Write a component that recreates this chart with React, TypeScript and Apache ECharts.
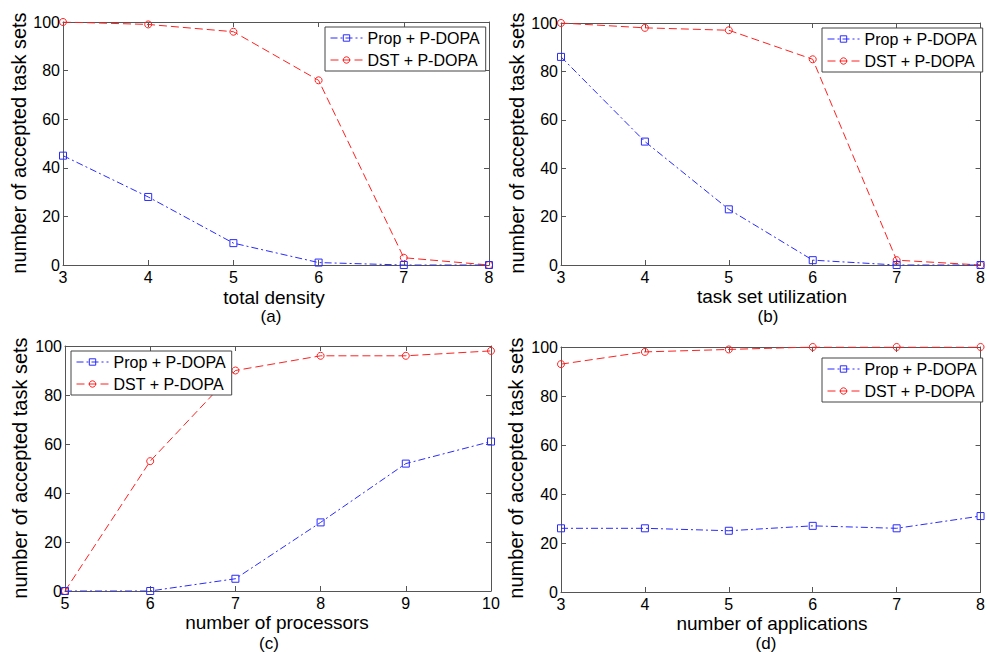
import React, { useEffect, useRef } from 'react';
import * as echarts from 'echarts';

// ---- data ----
const xA = [3, 4, 5, 6, 7, 8];
const propA = [45, 28, 9, 1, 0, 0];
const dstA = [100, 99, 96, 76, 3, 0];

const xB = [3, 4, 5, 6, 7, 8];
const propB = [86, 51, 23, 2, 0, 0];
const dstB = [100, 98, 97, 85, 2, 0];

const xC = [5, 6, 7, 8, 9, 10];
const propC = [0, 0, 5, 28, 52, 61];
const dstC = [0, 53, 90, 96, 96, 98];

const xD = [3, 4, 5, 6, 7, 8];
const propD = [26, 26, 25, 27, 26, 31];
const dstD = [93, 98, 99, 100, 100, 100];

const yMin = 0;
const yMax = 100;
const yStep = 20;

const xTitles = ['total density', 'task set utilization', 'number of processors', 'number of applications'];
const panelTags = ['(a)', '(b)', '(c)', '(d)'];
const yTitle = 'number of accepted task sets';
const seriesNames = ['Prop + P-DOPA', 'DST + P-DOPA'];

const panels = [
  { x: xA, prop: propA, dst: dstA },
  { x: xB, prop: propB, dst: dstB },
  { x: xC, prop: propC, dst: dstC },
  { x: xD, prop: propD, dst: dstD },
];

// ---- layout ----
const grids = [
  { left: 63, top: 22, width: 426, height: 243 },
  { left: 561, top: 23, width: 426, height: 242 },
  { left: 65, top: 346, width: 426, height: 245 },
  { left: 561, top: 347, width: 425, height: 245 },
];
const legendPos = [
  { left: 325, top: 27 },
  { left: 822, top: 28 },
  { left: 71, top: 351 },
  { left: 822, top: 358 },
];
const yTitlePos = [
  { x: 19, y: 143 },
  { x: 517, y: 143 },
  { x: 20, y: 468 },
  { x: 516, y: 468 },
];
const xTitlePos = [
  { x: 274, y: 297, tx: 271, ty: 316 },
  { x: 772, y: 296, tx: 768, ty: 316 },
  { x: 277, y: 622, tx: 269, ty: 643 },
  { x: 772, y: 623, tx: 766, ty: 643 },
];

const FONT = 'Arial, "Liberation Sans", Helvetica, sans-serif';
const AXIS_COLOR = '#555';
const BLUE = '#2a2aff';
const RED = '#ff2020';

export default function App() {
  const ref = useRef<HTMLDivElement>(null);

  useEffect(() => {
    document.body.style.margin = '0';
    if (!ref.current) return;
    const chart = echarts.init(ref.current, undefined, { renderer: 'svg' });

    const xAxes: any[] = [];
    const yAxes: any[] = [];
    const series: any[] = [];
    const graphics: any[] = [];
    const legends: any[] = [];

    panels.forEach((p, i) => {
      const xmin = p.x[0];
      const xmax = p.x[p.x.length - 1];
      const baseX = {
        type: 'value',
        gridIndex: i,
        min: xmin,
        max: xmax,
        interval: 1,
        splitLine: { show: false },
        axisLine: { show: true, onZero: false, lineStyle: { color: AXIS_COLOR, width: 1 } },
        axisTick: { show: true, inside: true, length: 5, lineStyle: { color: AXIS_COLOR } },
      };
      xAxes.push({
        ...baseX,
        position: 'bottom',
        axisLabel: { show: true, color: '#000', fontSize: 16, fontFamily: FONT, margin: 4 },
      });
      xAxes.push({
        ...baseX,
        position: 'top',
        axisLabel: { show: false },
      });
      const baseY = {
        type: 'value',
        gridIndex: i,
        min: yMin,
        max: yMax,
        interval: yStep,
        splitLine: { show: false },
        axisLine: { show: true, onZero: false, lineStyle: { color: AXIS_COLOR, width: 1 } },
        axisTick: { show: true, inside: true, length: 5, lineStyle: { color: AXIS_COLOR } },
      };
      yAxes.push({
        ...baseY,
        position: 'left',
        axisLabel: { show: true, color: '#000', fontSize: 16, fontFamily: FONT, margin: 3 },
      });
      yAxes.push({
        ...baseY,
        position: 'right',
        axisLabel: { show: false },
      });

      series.push({
        name: seriesNames[0],
        type: 'line',
        xAxisIndex: i * 2,
        yAxisIndex: i * 2,
        data: p.x.map((xv, k) => [xv, p.prop[k]]),
        symbol: 'rect',
        symbolSize: 7,
        showSymbol: true,
        color: BLUE,
        itemStyle: { color: 'rgba(255,255,255,0)', borderColor: BLUE, borderWidth: 1 },
        lineStyle: { color: BLUE, width: 1, type: [7, 3, 2, 3] },
        z: 3,
      });
      series.push({
        name: seriesNames[1],
        type: 'line',
        xAxisIndex: i * 2,
        yAxisIndex: i * 2,
        data: p.x.map((xv, k) => [xv, p.dst[k]]),
        symbol: 'circle',
        symbolSize: 7,
        showSymbol: true,
        color: RED,
        itemStyle: { color: 'rgba(255,255,255,0)', borderColor: RED, borderWidth: 1 },
        lineStyle: { color: RED, width: 1, type: [8, 4] },
        z: 2,
      });

      legends.push({
        left: legendPos[i].left,
        top: legendPos[i].top,
        orient: 'vertical',
        data: seriesNames,
        backgroundColor: '#fff',
        borderColor: '#444',
        borderWidth: 1,
        borderRadius: 0,
        padding: [3, 6, 3, 5],
        itemGap: 6,
        itemWidth: 32,
        itemHeight: 8,
        selectedMode: false,
        lineStyle: { width: 1 },
        itemStyle: { borderWidth: 1 },
        textStyle: { fontSize: 16, color: '#000', fontFamily: FONT },
      });

      graphics.push({
        type: 'text',
        x: yTitlePos[i].x,
        y: yTitlePos[i].y,
        rotation: Math.PI / 2,
        style: {
          text: yTitle,
          fontSize: 20,
          fontFamily: FONT,
          fill: '#000',
          align: 'center',
          verticalAlign: 'middle',
        },
      });
      graphics.push({
        type: 'text',
        x: xTitlePos[i].x,
        y: xTitlePos[i].y,
        style: {
          text: xTitles[i],
          fontSize: 19,
          fontFamily: FONT,
          fill: '#000',
          align: 'center',
          verticalAlign: 'middle',
        },
      });
      graphics.push({
        type: 'text',
        x: xTitlePos[i].tx,
        y: xTitlePos[i].ty,
        style: {
          text: panelTags[i],
          fontSize: 17,
          fontFamily: FONT,
          fill: '#000',
          align: 'center',
          verticalAlign: 'middle',
        },
      });
    });

    chart.setOption({
      animation: false,
      backgroundColor: '#fff',
      grid: grids.map((g) => ({ ...g, containLabel: false })),
      xAxis: xAxes,
      yAxis: yAxes,
      legend: legends,
      series,
      graphic: graphics,
    });

    return () => {
      chart.dispose();
    };
  }, []);

  return <div ref={ref} style={{ width: 988, height: 652 }} />;
}
